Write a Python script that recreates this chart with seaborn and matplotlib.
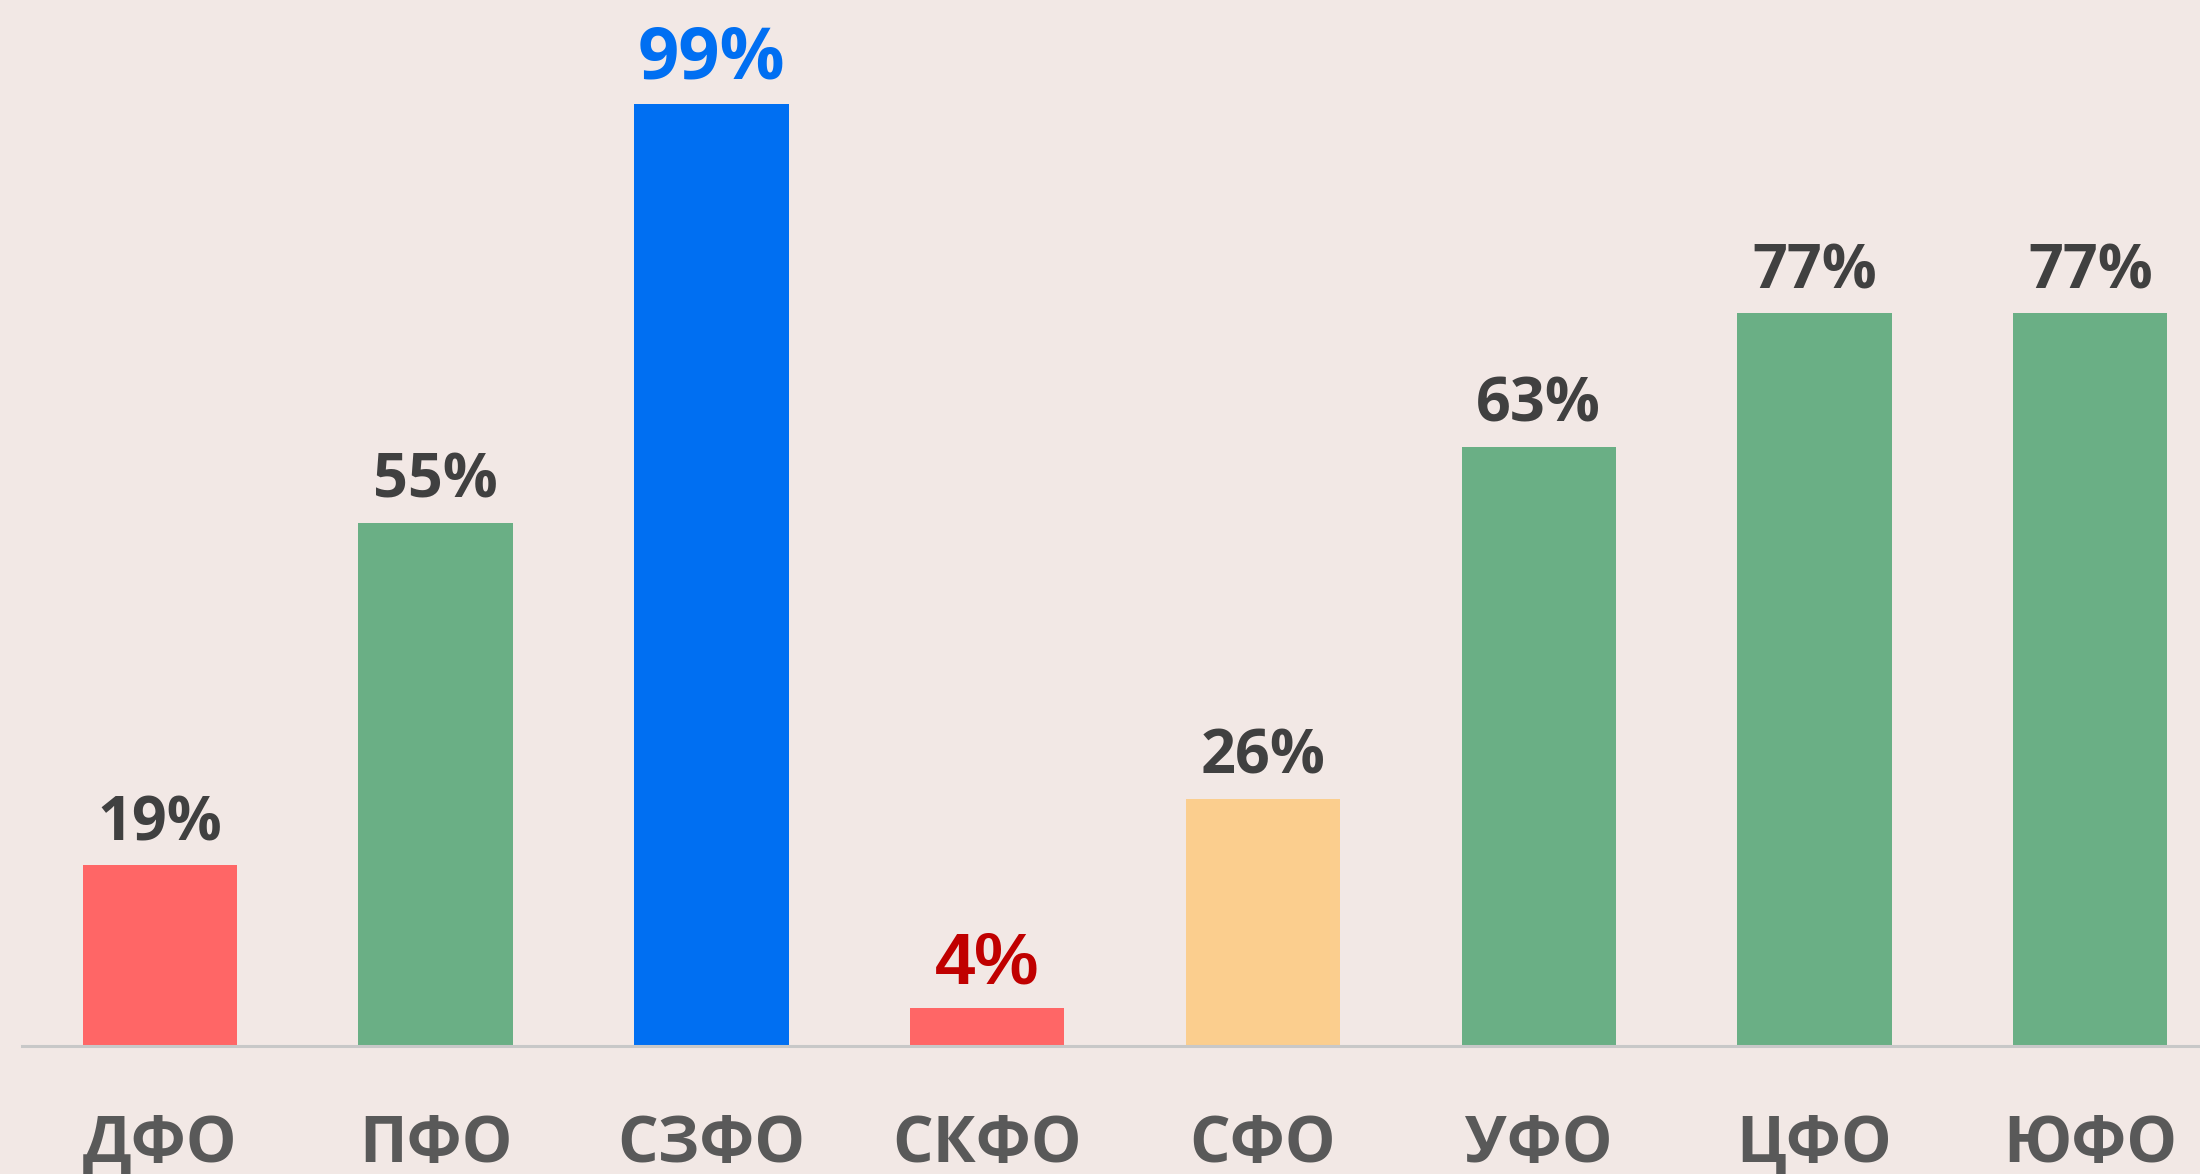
import seaborn as sns
import matplotlib.pyplot as plt
import pandas as pd

districts = ['ДФО', 'ПФО', 'СЗФО', 'СКФО', 'СФО', 'УФО', 'ЦФО', 'ЮФО']
shares = [19, 55, 99, 4, 26, 63, 77, 77]
bar_colors = ['#FF6666', '#6AAF85', '#006FF2', '#FF6666',
              '#FBCE8E', '#6AAF85', '#6AAF85', '#6AAF85']
label_colors = ['#404040', '#404040', '#006FF2', '#C00000',
                '#404040', '#404040', '#404040', '#404040']

df = pd.DataFrame({'district': districts, 'share': shares})

bg = '#F2E8E5'
sns.set_style('white')
plt.rcParams['font.family'] = ['Open Sans', 'DejaVu Sans']

fig = plt.figure(figsize=(11, 5.87), dpi=200, facecolor=bg)
ax = fig.add_axes([0.01, 0.1087, 1.0028, 0.811])
ax.set_facecolor(bg)

sns.barplot(data=df, x='district', y='share', hue='district',
            palette=bar_colors, width=0.56, legend=False, ax=ax,
            saturation=1, linewidth=0)

# value labels above bars
for i, (v, c) in enumerate(zip(shares, label_colors)):
    size, fam = 22, ['Open Sans', 'DejaVu Sans']
    if c == '#006FF2':
        size = 26
    elif c == '#C00000':
        size, fam = 26, ['Liberation Sans', 'DejaVu Sans']
    ax.annotate(f'{v}%', xy=(i, v), xytext=(0, 9), textcoords='offset points',
                ha='center', va='baseline', fontsize=size, fontweight='bold',
                color=c, family=fam, annotation_clip=False)

ax.set_xlim(-0.5, 7.5)
ax.set_ylim(0, 100)
ax.set_xlabel('')
ax.set_ylabel('')
ax.set_yticks([])
for s in ['top', 'right', 'left']:
    ax.spines[s].set_visible(False)
ax.spines['bottom'].set_color('#C8C8C8')
ax.spines['bottom'].set_linewidth(1.1)
ax.tick_params(axis='x', length=0, pad=24, labelsize=23, labelcolor='#595959')
for t in ax.get_xticklabels():
    t.set_fontweight('bold')

fig.savefig('out.png', dpi=200, facecolor=bg)
